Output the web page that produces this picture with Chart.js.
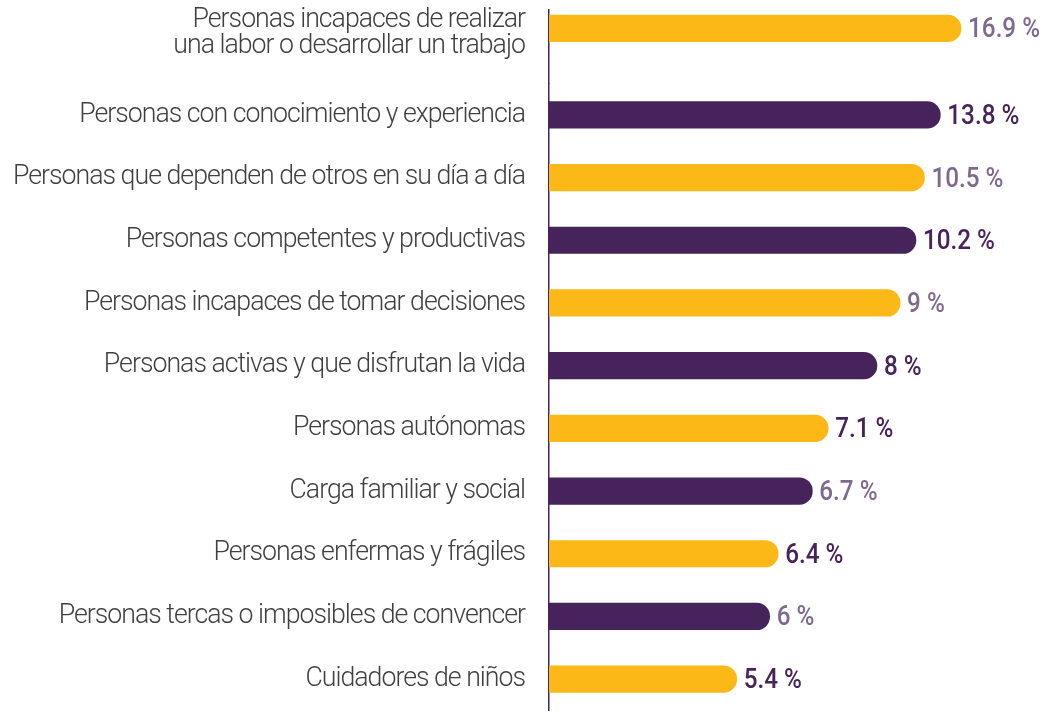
<!DOCTYPE html>
<html>
<head>
<meta charset="utf-8">
<script src="https://cdn.jsdelivr.net/npm/chart.js@4"></script>
<style>
  html, body { margin: 0; padding: 0; background: #ffffff; }
  #wrap { position: relative; width: 1042px; height: 714px; }
  #wrap canvas { position: absolute; left: 0; top: 0; }
</style>
</head>
<body>
<div id="wrap">
  <canvas id="rest" width="1042" height="714"></canvas>
  <canvas id="first" width="1042" height="714"></canvas>
</div>
<script>
// ---- data ----
const categories = [
  ['Personas incapaces de realizar', 'una labor o desarrollar un trabajo'],
  'Personas con conocimiento y experiencia',
  'Personas que dependen de otros en su día a día',
  'Personas competentes y productivas',
  'Personas incapaces de tomar decisiones',
  'Personas activas y que disfrutan la vida',
  'Personas autónomas',
  'Carga familiar y social',
  'Personas enfermas y frágiles',
  'Personas tercas o imposibles de convencer',
  'Cuidadores de niños'
];
// percentages printed next to each bar
const percentages = [16.9, 13.8, 10.5, 10.2, 9, 8, 7.1, 6.7, 6.4, 6, 5.4];
// bar lengths as drawn in the picture (in % units; the drawn bars are not proportional)
const barLengths = [16.9, 16.05, 15.4, 15.05, 14.4, 13.45, 11.45, 10.8, 9.4, 9.05, 7.7];
const barColorKeys = ['yellow','purple','yellow','purple','yellow','purple','yellow','purple','yellow','purple','yellow'];
const labelColorKeys = ['light','dark','light','dark','light','dark','dark','light','dark','light','dark'];

// ---- styles ----
const palette = { yellow: '#FBB817', purple: '#46235B', light: '#7E6A8E', dark: '#46235B' };
const AXIS_X = 549;
const X_MAX = 20.22;
const LABEL_SPACING = -1;   // px, to mimic the condensed face

function fontAvailable(name) {
  const c = document.createElement('canvas').getContext('2d');
  const s = 'Personas abcdefghijklmnop 0123456789 %';
  c.font = '40px monospace';
  const a = c.measureText(s).width;
  c.font = '40px "' + name + '", monospace';
  const b = c.measureText(s).width;
  return Math.abs(a - b) > 0.5;
}
let family = 'Roboto';
let labelWeight = '300';
let valueWeight = '500';
if (fontAvailable('Liberation Sans Narrow')) { family = 'Liberation Sans Narrow'; labelWeight = 'normal'; valueWeight = 'bold'; }

function measure(text, weight, size, spacing) {
  const c = document.createElement('canvas').getContext('2d');
  c.font = weight + ' ' + size + 'px "' + family + '"';
  if ('letterSpacing' in c) c.letterSpacing = spacing + 'px';
  return c.measureText(text).width;
}
const supportsSpacing = 'letterSpacing' in document.createElement('canvas').getContext('2d');
const spacingUsed = supportsSpacing ? LABEL_SPACING : 0;
// label font size so that the reference label widths are matched
let labelSize = 26;
for (let k = 0; k < 4; k++) {
  labelSize = labelSize * 446 / measure('Personas con conocimiento y experiencia', labelWeight, labelSize, spacingUsed);
}
const valueSize = 28;
const valueScaleX = 72 / measure('16.9 %', valueWeight, valueSize, 0);

const fmt = v => String(v) + ' %';

const spacingPlugin = {
  id: 'labelSpacing',
  beforeDraw(chart) { if (supportsSpacing) chart.ctx.letterSpacing = spacingUsed + 'px'; },
  afterDraw(chart) { if (supportsSpacing) chart.ctx.letterSpacing = '0px'; }
};

const valueLabelPlugin = {
  id: 'valueLabels',
  afterDatasetsDraw(chart) {
    const ctx = chart.ctx;
    const offset = chart.options.plugins.valueLabels.offset;
    const meta = chart.getDatasetMeta(0);
    ctx.save();
    if (supportsSpacing) ctx.letterSpacing = '0px';
    ctx.font = valueWeight + ' ' + valueSize + 'px "' + family + '"';
    ctx.textAlign = 'left';
    ctx.textBaseline = 'middle';
    meta.data.forEach((bar, i) => {
      const idx = i + offset;
      if (chart.data.datasets[0].data[i] == null) return;
      ctx.save();
      ctx.translate(bar.x + 7, bar.y + 2);
      ctx.scale(valueScaleX, 1);
      ctx.fillStyle = palette[labelColorKeys[idx]];
      ctx.fillText(fmt(percentages[idx]), 0, 0);
      ctx.restore();
    });
    ctx.restore();
  }
};

function makeChart(id, labels, data, colors, offset, padTop, padBottom, labelShift) {
  return new Chart(document.getElementById(id), {
    type: 'bar',
    data: {
      labels: labels,
      datasets: [{
        data: data,
        backgroundColor: colors,
        barThickness: 26.5,
        borderRadius: 14,
        borderSkipped: 'start'
      }]
    },
    options: {
      indexAxis: 'y',
      responsive: false,
      animation: false,
      events: [],
      layout: { padding: { top: padTop, bottom: padBottom, left: 0, right: 0 } },
      plugins: { legend: { display: false }, tooltip: { enabled: false }, valueLabels: { offset: offset } },
      scales: {
        x: { display: false, min: 0, max: X_MAX },
        y: {
          grid: { display: false, drawTicks: false },
          border: { display: true, color: '#46235B', width: 1.5 },
          afterFit(scale) {
            scale.width = AXIS_X;
            scale.paddingTop = 0;
            scale.paddingBottom = 0;
          },
          ticks: {
            padding: 24,
            labelOffset: labelShift,
            color: '#3F3F3F',
            font: { family: family, size: labelSize, weight: labelWeight, lineHeight: 0.95 }
          }
        }
      }
    },
    plugins: [spacingPlugin, valueLabelPlugin]
  });
}

// first (two-line) row sits higher than the regular spacing: own chart with a spare slot
makeChart('first',
  [categories[0], ''],
  [barLengths[0], null],
  [palette[barColorKeys[0]], palette[barColorKeys[0]]],
  0, 10, 714 - 83.5, 5);

makeChart('rest',
  categories.slice(1),
  barLengths.slice(1),
  barColorKeys.slice(1).map(k => palette[k]),
  1, 83.5, 3.5, 0);
</script>
</body>
</html>
